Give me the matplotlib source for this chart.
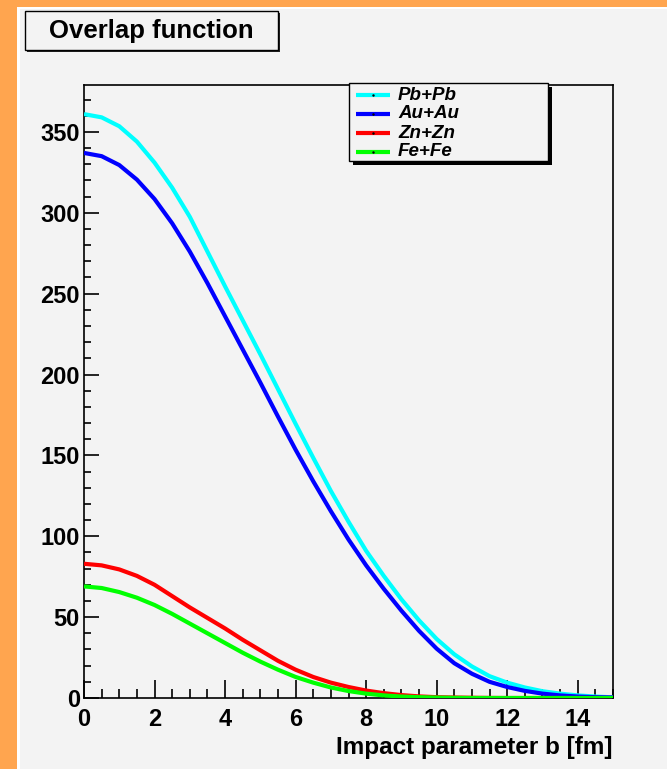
import numpy as np
import matplotlib.pyplot as plt
from matplotlib.patches import Rectangle
from matplotlib.lines import Line2D
from matplotlib.ticker import MultipleLocator

plt.rcParams['font.family'] = ['Liberation Sans', 'DejaVu Sans']

# overlap function T_AA(b) read on a 0.5 fm grid
b = np.arange(0, 15.01, 0.5)
t_pbpb = [361, 359, 353.5, 344, 331, 315.5, 297.5, 276, 254.5, 233.5, 212.5, 191, 169.5, 148.5,
          128, 109, 91, 75.5, 61, 48, 36.5, 27, 19.5, 13.5, 9.5, 6.5, 4.2, 2.7, 1.6, 0.9, 0.4]
t_auau = [337, 335, 329.5, 320.5, 308.5, 293.5, 276, 256.5, 236, 215.5, 195, 174, 153.5, 134,
          115.5, 98, 82, 67.5, 54, 41.5, 30.5, 21.5, 15, 10, 6.8, 4.4, 2.7, 1.6, 0.9, 0.5, 0.3]
t_znzn = [83, 82, 79.5, 75.5, 70, 63, 56, 49.5, 43, 36, 29.5, 23, 17.5, 13, 9.5, 6.8,
          4.6, 3.0, 1.8, 1.0, 0.5, 0.3, 0.15, 0.05, 0, 0, 0, 0, 0, 0, 0]
t_fefe = [69, 68, 65.5, 62, 57.5, 52, 46, 40, 34, 28, 22.5, 17.5, 13, 9.5, 6.5, 4.3,
          2.7, 1.6, 0.9, 0.5, 0.25, 0.1, 0, 0, 0, 0, 0, 0, 0, 0, 0]

systems = ['Pb+Pb', 'Au+Au', 'Zn+Zn', 'Fe+Fe']
curves = [t_pbpb, t_auau, t_znzn, t_fefe]
colors = ['#00ffff', '#0000ff', '#ff0000', '#00ff00']

W, H = 667, 769
fig = plt.figure(figsize=(W / 100, H / 100), dpi=100)
fig.patch.set_facecolor('#ffa54f')


def px(x, y, w, h):
    # pixel box (top-left origin) -> figure fraction rectangle
    return (x / W, 1 - (y + h) / H), w / W, h / H


# canvas with its light bevel
xy, w, h = px(17, 7, W - 17, H - 7)
fig.patches.append(Rectangle(xy, w, h, transform=fig.transFigure,
                             facecolor='white', edgecolor='none', zorder=-2))
xy, w, h = px(20, 9, W - 20, H - 9)
fig.patches.append(Rectangle(xy, w, h, transform=fig.transFigure,
                             facecolor='#f3f3f3', edgecolor='none', zorder=-1))

ax = fig.add_axes([84 / W, 1 - 698 / H, (613 - 84) / W, (698 - 85) / H])
ax.set_zorder(1)
ax.set_facecolor('#f3f3f3')
for c, y in zip(colors, curves):
    ax.plot(b, y, color=c, lw=3, solid_capstyle='butt', zorder=3)

ax.set_xlim(0, 15)
ax.set_ylim(0, 379)
ax.xaxis.set_major_locator(MultipleLocator(2))
ax.xaxis.set_minor_locator(MultipleLocator(0.5))
ax.yaxis.set_major_locator(MultipleLocator(50))
ax.yaxis.set_minor_locator(MultipleLocator(10))
ax.tick_params(which='both', direction='in', top=False, right=False,
               labelsize=17, width=1.2, colors='black')
ax.tick_params(axis='x', which='major', length=13, pad=7.5)
ax.tick_params(axis='x', which='minor', length=6.5)
ax.tick_params(axis='y', which='major', length=11, pad=3)
ax.tick_params(axis='y', which='minor', length=5)
for lab in ax.get_xticklabels() + ax.get_yticklabels():
    lab.set_fontweight('bold')
for s in ax.spines.values():
    s.set_linewidth(1.2)

ax.set_xlabel('Impact parameter b [fm]', fontsize=17.5, fontweight='bold',
              loc='right', labelpad=3.5)

# title box with shadow
xy, w, h = px(27, 13, 253, 39)
fig.patches.append(Rectangle(xy, w, h, transform=fig.transFigure,
                             facecolor='#222222', edgecolor='none', zorder=4))
xy, w, h = px(25, 11, 253, 39)
fig.patches.append(Rectangle(xy, w, h, transform=fig.transFigure,
                             facecolor='#f3f3f3', edgecolor='black', lw=1, zorder=5))
fig.text(151 / W, 1 - 31 / H, 'Overlap function', fontsize=18.5, fontweight='bold',
         ha='center', va='center', zorder=6)

# legend box with shadow
xy, w, h = px(353, 87, 199, 78)
fig.patches.append(Rectangle(xy, w, h, transform=fig.transFigure,
                             facecolor='black', edgecolor='none', zorder=7))
xy, w, h = px(349, 83, 199, 78)
fig.patches.append(Rectangle(xy, w, h, transform=fig.transFigure,
                             facecolor='#f3f3f3', edgecolor='black', lw=1, zorder=8))
entry_y = [95, 114, 133, 152]
for name, c, yy in zip(systems, colors, entry_y):
    yf = 1 - yy / H
    fig.add_artist(Line2D([356 / W, 390 / W], [yf, yf], transform=fig.transFigure,
                          color=c, lw=3, solid_capstyle='butt', zorder=9))
    fig.add_artist(Line2D([373 / W], [yf], transform=fig.transFigure, marker='.',
                          color='black', markersize=1.5, zorder=10))
    fig.text(398 / W, yf, name, fontsize=13.5, fontweight='bold', fontstyle='italic',
             ha='left', va='center', zorder=10)

plt.savefig('out.png', dpi=100, facecolor=fig.get_facecolor())
